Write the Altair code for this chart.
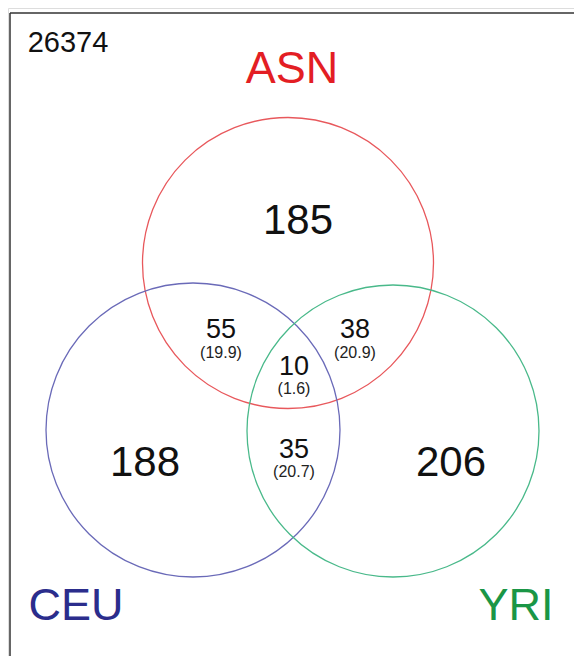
import altair as alt
import pandas as pd

# ---- data ----
set_names = ["ASN", "CEU", "YRI"]
set_cx = [288, 193, 393]
set_cy = [263, 430, 431]
set_diam = [291, 294, 292]
circle_colors = ["#e8585c", "#6a6ab8", "#49b98a"]

label_x = [292, 76, 516]
label_y = [69, 606, 606]
label_colors = ["#e31e24", "#2b2d8c", "#1a9646"]

big_counts = ["185", "188", "206"]
big_x = [298, 145, 451]
big_y = [221, 463, 463]

pair_counts = ["55", "38", "35", "10"]
pair_expected = ["(19.9)", "(20.9)", "(20.7)", "(1.6)"]
pair_x = [221, 355, 294, 294]
pair_y = [330, 330, 450, 367]
exp_y = [353, 353, 472, 389]

total_text = ["26374"]
total_x = [68]
total_y = [43]

frame_x = [10, 10]
frame_y = [13, 13]
frame_x2 = [582, 10]
frame_y2 = [13, 664]

FONT = "Liberation Sans"
W, H = 566, 648
xs = alt.Scale(domain=[8, 8 + W], nice=False, zero=False)
ys = alt.Scale(domain=[8, 8 + H], nice=False, zero=False, reverse=True)

circles = pd.DataFrame({"name": set_names, "x": set_cx, "y": set_cy,
                        "size": [d * d for d in set_diam], "col": circle_colors})
labels = pd.DataFrame({"name": set_names, "x": label_x, "y": label_y, "col": label_colors})
bigs = pd.DataFrame({"t": big_counts, "x": big_x, "y": big_y})
pairs = pd.DataFrame({"t": pair_counts, "x": pair_x, "y": pair_y})
exps = pd.DataFrame({"t": pair_expected, "x": pair_x, "y": exp_y})
tot = pd.DataFrame({"t": total_text, "x": total_x, "y": total_y})
frame = pd.DataFrame({"x": frame_x, "y": frame_y, "x2": frame_x2, "y2": frame_y2})

X = lambda f="x": alt.X(f"{f}:Q", scale=xs, axis=None)
Y = lambda f="y": alt.Y(f"{f}:Q", scale=ys, axis=None)

frame_layer = alt.Chart(frame).mark_rule(color="#333333", strokeWidth=1.5, clip=False).encode(
    x=X(), y=Y(), x2="x2:Q", y2="y2:Q")

circle_layer = alt.Chart(circles).mark_point(shape="circle", filled=False, strokeWidth=1.3, opacity=1).encode(
    x=X(), y=Y(),
    size=alt.Size("size:Q", scale=None, legend=None),
    stroke=alt.Stroke("col:N", scale=None, legend=None))

label_layer = alt.Chart(labels).mark_text(font=FONT, fontSize=45, align="center", baseline="middle").encode(
    x=X(), y=Y(), text="name:N",
    fill=alt.Fill("col:N", scale=None, legend=None))

big_layer = alt.Chart(bigs).mark_text(font=FONT, fontSize=42, align="center", baseline="middle", color="#111111").encode(
    x=X(), y=Y(), text="t:N")

pair_layer = alt.Chart(pairs).mark_text(font=FONT, fontSize=27, align="center", baseline="middle", color="#111111").encode(
    x=X(), y=Y(), text="t:N")

exp_layer = alt.Chart(exps).mark_text(font=FONT, fontSize=16, align="center", baseline="middle", color="#222222").encode(
    x=X(), y=Y(), text="t:N")

tot_layer = alt.Chart(tot).mark_text(font=FONT, fontSize=29, align="center", baseline="middle", color="#111111").encode(
    x=X(), y=Y(), text="t:N")

chart = alt.layer(frame_layer, circle_layer, label_layer, big_layer, pair_layer, exp_layer, tot_layer).properties(
    width=W, height=H, padding=0, autosize=alt.AutoSizeParams(type="none")
).configure_view(stroke=None).configure(background="white")

chart.save("out.html", embed_options={"renderer": "svg", "actions": False})
